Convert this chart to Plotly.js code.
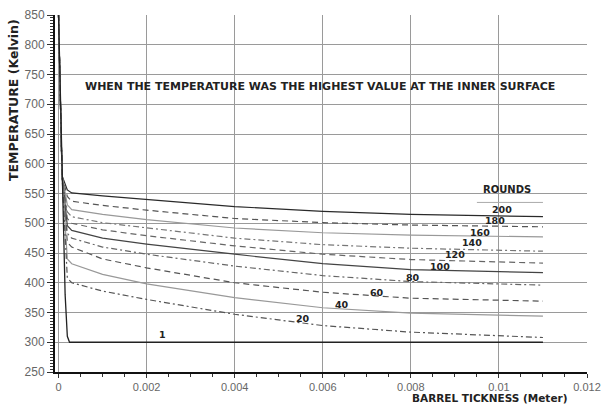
<!DOCTYPE html>
<html>
<head>
<meta charset="utf-8">
<script src="https://cdn.plot.ly/plotly-3.0.1.min.js"></script>
<style>html,body{margin:0;padding:0;background:#fff;}#chart{width:601px;height:406px;}</style>
</head>
<body>
<div id="chart"></div>
<script>
// Barrel thickness (m) sample positions for the round curves
const xThickness = [0, 0.00008, 0.0002, 0.0003, 0.001, 0.002, 0.004, 0.006, 0.008, 0.011];
// Temperature (K) per round
const round200 = [850, 580, 556, 551, 546, 540, 528, 520, 515, 511];
const round180 = [850, 580, 545, 537, 530, 522, 508, 501, 497, 494];
const round160 = [850, 580, 531, 523, 515, 506, 492, 484, 480, 477];
const round140 = [850, 580, 519, 511, 501, 492, 475, 464, 458, 453];
const round120 = [850, 580, 508, 500, 489, 479, 462, 448, 439, 433];
const round100 = [850, 580, 496, 488, 475, 465, 448, 432, 422, 417];
const round80  = [850, 580, 483, 475, 460, 448, 428, 412, 402, 396];
const round60  = [850, 580, 468, 460, 440, 425, 400, 384, 374, 369];
const round40  = [850, 580, 440, 432, 414, 398, 375, 358, 349, 344];
const round20  = [850, 580, 408, 400, 386, 372, 347, 328, 317, 308];
// Round 1 has its own sample positions
const xRound1 = [0, 0.00008, 0.00015, 0.0002, 0.00025, 0.011];
const round1  = [850, 580, 380, 310, 300, 300];

const roundNames = ['200','180','160','140','120','100','80','60','40','20'];
const roundSeries = [round200, round180, round160, round140, round120, round100, round80, round60, round40, round20];
const lineColors = ['#2a2a2a','#555','#999','#777','#666','#444','#666','#555','#999','#555'];
const lineDashes = ['solid','6px,4px','solid','6px,3px,2px,3px','6px,4px','solid','6px,3px,2px,3px','6px,4px','solid','6px,3px,2px,3px'];

// Label positions (data coords) for round labels
const labelText = ['200','180','160','140','120','100','80','60','40','20','1'];
const labelX = [0.01007, 0.00990, 0.00958, 0.00939, 0.0090, 0.00866, 0.00805, 0.00723, 0.00643, 0.00555, 0.00236];
const labelY = [523, 504, 485, 467, 447, 428, 408, 383, 363, 340, 313];

const FONT = 'DejaVu Sans, Liberation Sans, Arial, sans-serif';

const traces = roundSeries.map((ys, i) => ({
  x: xThickness, y: ys, type: 'scatter', mode: 'lines', name: roundNames[i],
  line: {color: lineColors[i], width: 1.2, dash: lineDashes[i]}, showlegend: false
}));
traces.push({x: xRound1, y: round1, type: 'scatter', mode: 'lines', name: '1',
  line: {color: '#222', width: 1.3}, showlegend: false});

const L = 55, R = 14, T = 15, B = 34, W = 601, H = 406;
const pw = W - L - R, ph = H - T - B;

const annots = labelText.map((t, i) => ({
  x: labelX[i], y: labelY[i], xref: 'x', yref: 'y', text: '<b>' + t + '</b>', showarrow: false,
  xanchor: 'center', yanchor: 'middle',
  font: {family: FONT, size: 9.5, color: '#222'}
}));
annots.push({x: 0.01018, y: 557, xref: 'x', yref: 'y', text: '<b>ROUNDS</b>', showarrow: false,
  xanchor: 'center', yanchor: 'middle',
  font: {family: FONT, size: 10, color: '#222'}});
annots.push({x: (320 - L) / pw, y: (H - B - 87) / ph, xref: 'paper', yref: 'paper',
  text: '<b>WHEN THE TEMPERATURE WAS THE HIGHEST VALUE AT THE INNER SURFACE</b>', showarrow: false,
  xanchor: 'center', yanchor: 'middle',
  font: {family: FONT, size: 11, color: '#222'}});
annots.push({x: (13 - L) / pw, y: (H - B - 100) / ph, xref: 'paper', yref: 'paper',
  text: '<b>TEMPERATURE (Kelvin)</b>', textangle: -90, showarrow: false,
  xanchor: 'center', yanchor: 'middle',
  font: {family: FONT, size: 12.5, color: '#222'}});
annots.push({x: (490 - L) / pw, y: (H - B - 398) / ph, xref: 'paper', yref: 'paper',
  text: '<b>BARREL TICKNESS (Meter)</b>', showarrow: false,
  xanchor: 'center', yanchor: 'middle',
  font: {family: FONT, size: 10.5, color: '#222'}});

const layout = {
  width: W, height: H,
  margin: {l: L, r: R, t: T, b: B, pad: 0},
  paper_bgcolor: '#fff', plot_bgcolor: '#fff',
  xaxis: {
    range: [-0.00008, 0.012], tickvals: [0, 0.002, 0.004, 0.006, 0.008, 0.01, 0.012],
    ticktext: ['0','0.002','0.004','0.006','0.008','0.01','0.012'],
    showgrid: true, gridcolor: '#9a9a9a', gridwidth: 1, zeroline: false,
    showline: true, linecolor: '#111', linewidth: 2,
    ticks: 'outside', ticklen: 4, tickcolor: '#333',
    minor: {dtick: 0.0005, ticklen: 3, tickcolor: '#333', showgrid: false},
    tickfont: {family: 'Liberation Sans, Arial, sans-serif', size: 11, color: '#666'}
  },
  yaxis: {
    range: [250, 850], dtick: 50, tick0: 250,
    showgrid: true, gridcolor: '#9a9a9a', gridwidth: 1, zeroline: false,
    showline: true, linecolor: '#111', linewidth: 2,
    ticks: 'outside', ticklen: 6, tickcolor: '#333',
    minor: {dtick: 5, ticklen: 3, tickcolor: '#333', showgrid: false},
    tickfont: {family: 'Liberation Sans, Arial, sans-serif', size: 12, color: '#666'}
  },
  shapes: [{type: 'line', xref: 'x', yref: 'y', x0: 0.0095, x1: 0.011, y0: 535, y1: 535,
    line: {color: '#aaa', width: 1}}],
  annotations: annots,
  showlegend: false
};

Plotly.newPlot('chart', traces, layout, {staticPlot: true, displayModeBar: false});
</script>
</body>
</html>
